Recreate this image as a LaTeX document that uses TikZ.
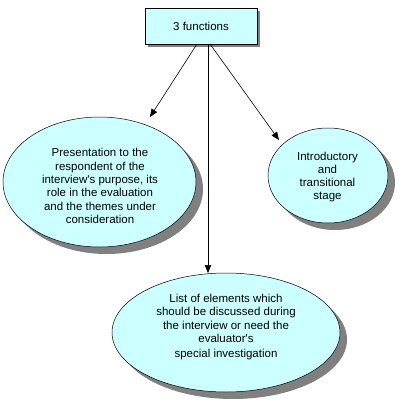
\documentclass[tikz,border=0pt]{standalone}
\usepackage{fontspec}
\setmainfont[Ligatures=TeXOff]{Liberation Sans}
\usetikzlibrary{shapes.geometric,shadows,arrows.meta}
\definecolor{cyanfill}{RGB}{204,255,255}
\definecolor{shadowgray}{RGB}{128,128,128}
\begin{document}
\begin{tikzpicture}[x=1pt,y=-1pt,
  txt/.style={font=\fontsize{11.5}{13.3}\selectfont, align=center, inner sep=0pt},
  bubble/.style={ellipse, draw=black, line width=0.5pt, fill=cyanfill, inner sep=0pt,
    drop shadow={shadow xshift=7pt, shadow yshift=-7pt, fill=shadowgray, opacity=1}},
  topbox/.style={rectangle, draw=black, line width=0.6pt, fill=cyanfill, txt,
    minimum width=112pt, minimum height=36pt, inner sep=0pt,
    drop shadow={shadow xshift=2.5pt, shadow yshift=-2.5pt, fill=shadowgray, opacity=1}},
  arr/.style={-{Triangle[length=8pt,width=6.5pt]}, line width=0.6pt, black}]
\useasboundingbox (0,0) rectangle (404,408);

\node[topbox] (top) at (201,26) {3 functions};

\node[bubble, minimum width=193pt, minimum height=130pt] (left) at (99.5,182) {};
\node[txt] (lefttext) at (100,186)
  {Presentation to the\\respondent of the\\interview's purpose, its\\role in the evaluation\\and the themes under\\consideration};

\node[bubble, minimum width=120pt, minimum height=95pt] (right) at (328,175.5) {};
\node[txt] (righttext) at (327.5,177)
  {Introductory\\and\\transitional\\stage};

\node[bubble, minimum width=228pt, minimum height=119pt] (bottom) at (226,332.5) {};
\node[txt] (bottomtext) at (226,327)
  {List of elements which\\should be discussed during\\the interview or need the\\evaluator's\\[1.5pt]special investigation};

\coordinate (sL) at (197,44);
\coordinate (sM) at (208,44);
\coordinate (sR) at (210,44);
\coordinate (tipL) at (150,117);
\coordinate (tipM) at (208,273);
\coordinate (tipR) at (279,140);

\draw[arr] (sL) -- (tipL);
\draw[arr] (sM) -- (tipM);
\draw[arr] (sR) -- (tipR);
\end{tikzpicture}
\end{document}
